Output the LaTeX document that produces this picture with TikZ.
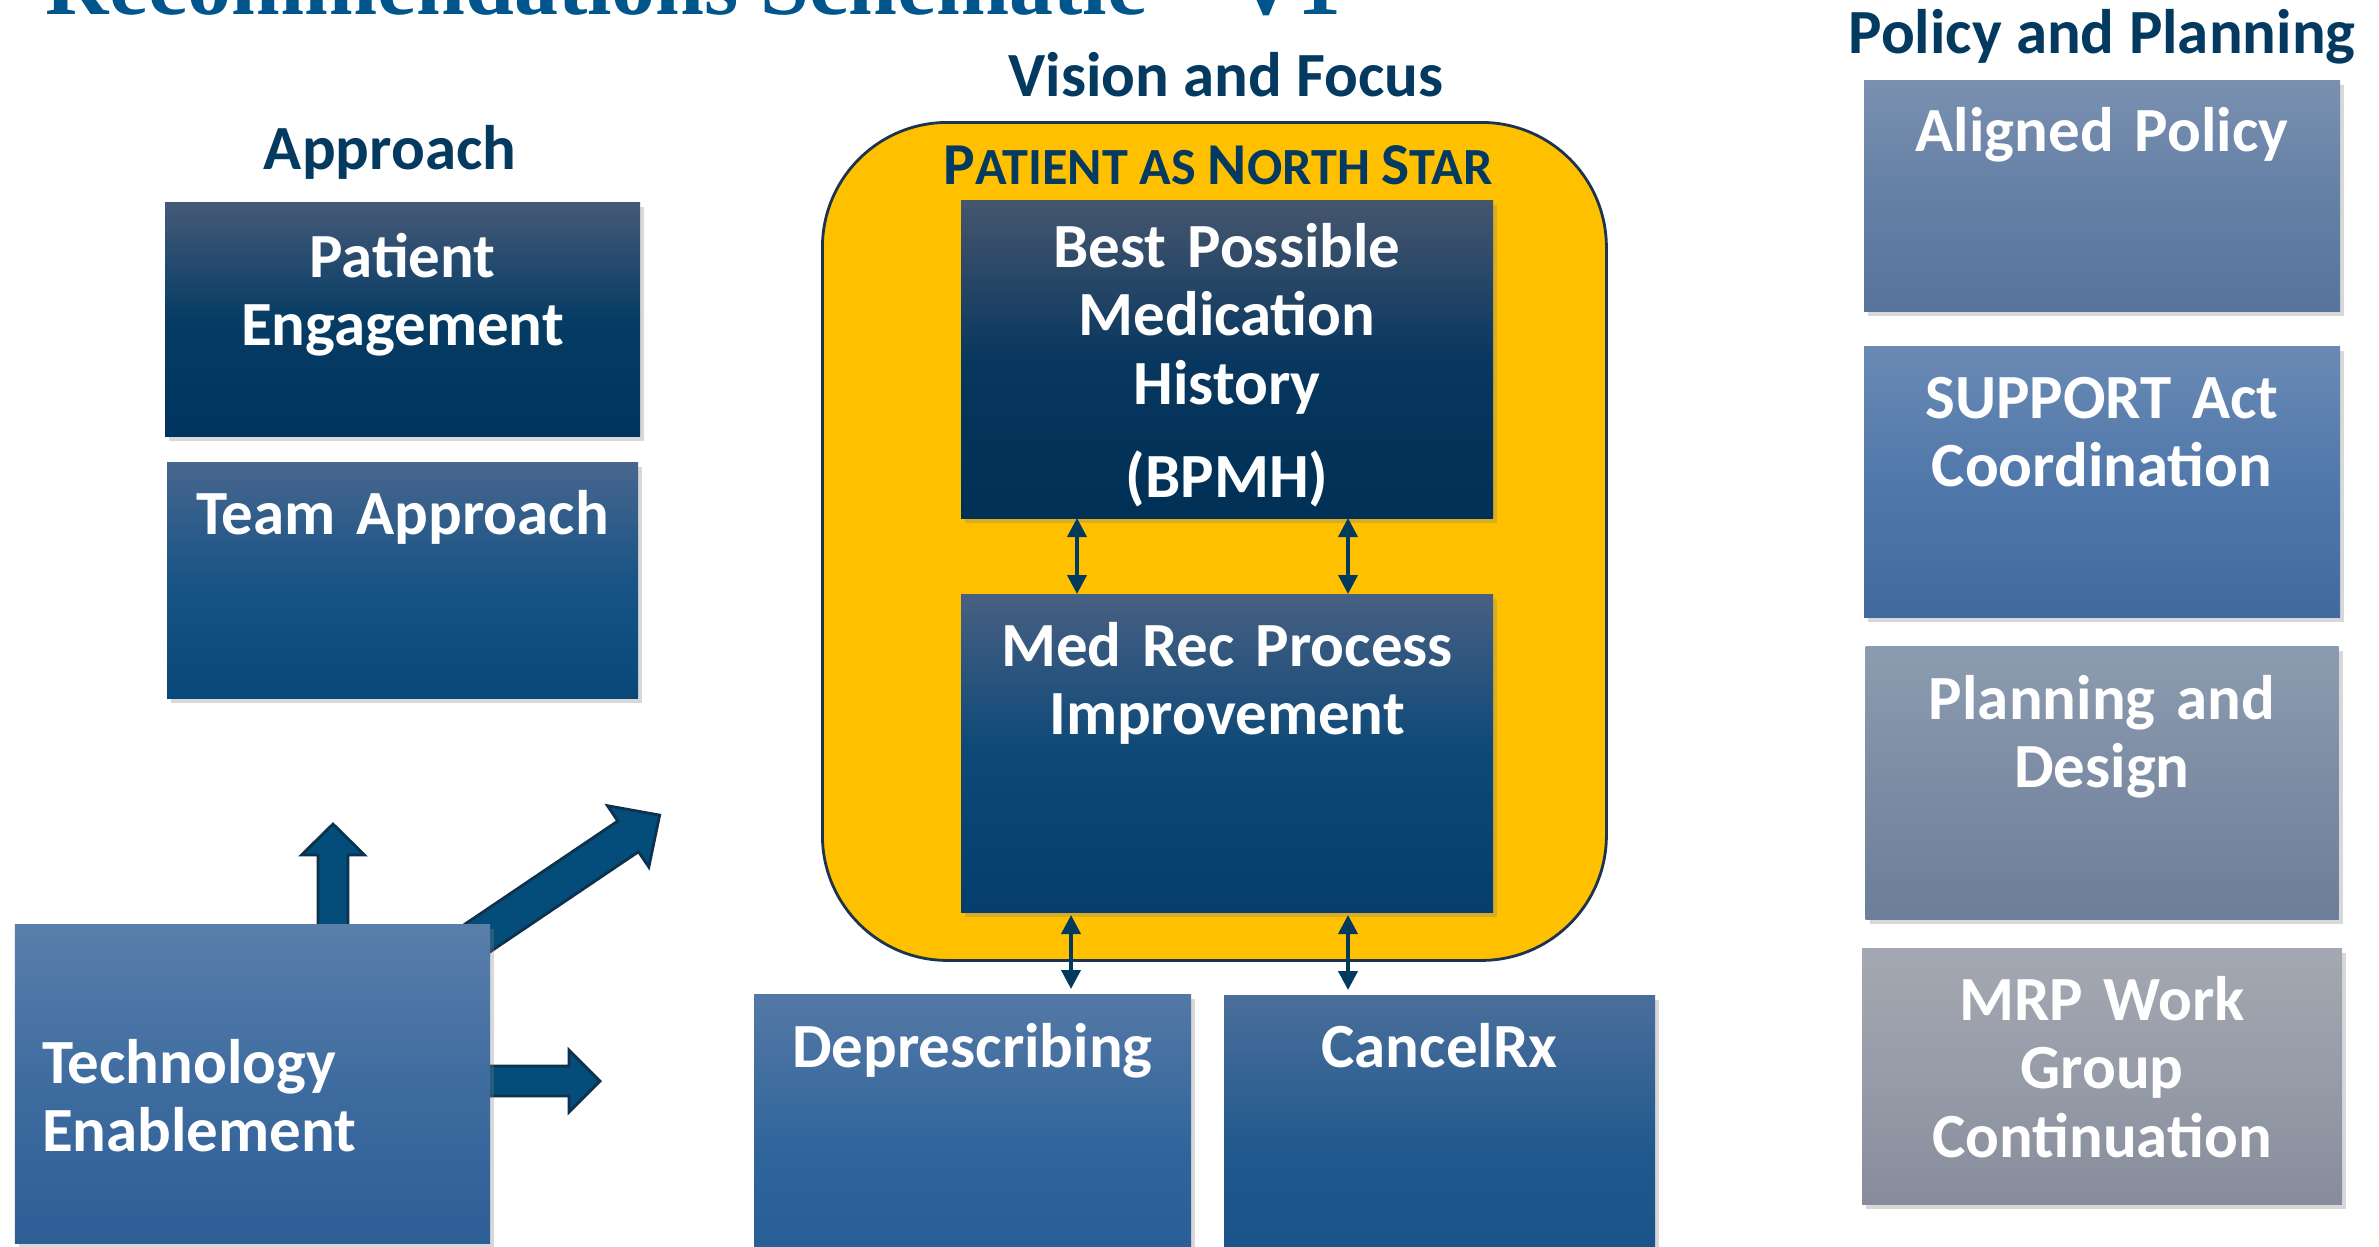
\documentclass[tikz,border=0pt]{standalone}
\usepackage{fontspec}
\setmainfont{Carlito}
\newfontfamily\titlefont{Liberation Serif}
\usetikzlibrary{arrows.meta, positioning, shadows}

\definecolor{headnavy}{RGB}{4,57,96}
\definecolor{titleblue}{RGB}{0,85,140}
\definecolor{gold}{RGB}{255,192,0}
\definecolor{goldline}{RGB}{28,52,80}
\definecolor{arrowfill}{RGB}{4,76,122}
\definecolor{arrowline}{RGB}{12,50,78}
\definecolor{linkblue}{RGB}{2,58,94}

% box gradients: top / middle / bottom
\definecolor{engageA}{RGB}{70,90,120}   \definecolor{engageB}{RGB}{6,60,100}   \definecolor{engageC}{RGB}{0,52,94}
\definecolor{teamA}{RGB}{72,102,142}    \definecolor{teamB}{RGB}{24,84,134}    \definecolor{teamC}{RGB}{10,72,122}
\definecolor{techA}{RGB}{90,126,170}    \definecolor{techB}{RGB}{62,108,160}   \definecolor{techC}{RGB}{46,94,150}
\definecolor{bpmhA}{RGB}{70,86,110}     \definecolor{bpmhB}{RGB}{8,55,95}      \definecolor{bpmhC}{RGB}{0,48,85}
\definecolor{medrecA}{RGB}{72,96,130}   \definecolor{medrecB}{RGB}{12,72,120}  \definecolor{medrecC}{RGB}{5,62,110}
\definecolor{depA}{RGB}{84,120,165}     \definecolor{depB}{RGB}{45,100,155}    \definecolor{depC}{RGB}{36,90,145}
\definecolor{cancelA}{RGB}{74,110,155}  \definecolor{cancelB}{RGB}{30,88,140}  \definecolor{cancelC}{RGB}{22,80,135}
\definecolor{alignA}{RGB}{122,144,176}  \definecolor{alignB}{RGB}{100,128,165} \definecolor{alignC}{RGB}{86,116,156}
\definecolor{supportA}{RGB}{106,138,180}\definecolor{supportB}{RGB}{80,120,170}\definecolor{supportC}{RGB}{64,106,158}
\definecolor{planA}{RGB}{140,156,176}   \definecolor{planB}{RGB}{124,140,164}  \definecolor{planC}{RGB}{108,126,152}
\definecolor{mrpA}{RGB}{164,168,178}    \definecolor{mrpB}{RGB}{150,156,168}   \definecolor{mrpC}{RGB}{134,140,154}

% small caps for the star label
\newcommand{\starbig}{\fontsize{16.9}{18}\selectfont}
\newcommand{\starsmall}{\fontsize{14.85}{16}\selectfont}

\tikzset{
    box/.style={
        rectangle,
        inner sep=0pt,
        outer sep=0pt,
        text=white,
        align=center,
        text height=0.72cm,
        drop shadow={opacity=0.3, shadow xshift=0.04cm, shadow yshift=-0.05cm}
    },
    vshade/.style={top color=#1A, bottom color=#1C, middle color=#1B},
    heading/.style={text=headnavy, anchor=base, inner sep=0pt},
    link/.style={
        {Triangle[length=0.19cm,width=0.19cm]}-{Triangle[length=0.19cm,width=0.19cm]},
        line width=1.1pt, draw=linkblue
    },
    bigarrow/.style={fill=arrowfill, draw=arrowline, line width=0.8pt}
}

\begin{document}
\begin{tikzpicture}[font=\bfseries\fontsize{17.9}{19.5}\selectfont]

\useasboundingbox (0,0) rectangle (23.79,-12.46);
\clip (0,0) rectangle (23.79,-12.46);
\fill[white] (0,0) rectangle (23.79,-12.46);

\node (title) [anchor=base west, inner sep=0pt, text=titleblue,
    font=\titlefont\bfseries\fontsize{25}{30}\selectfont] at (0.45,-0.14)
    {Recommendations Schematic – V1};

% headings
\node (approach) [heading] at (3.90,-1.69) {Approach};
\node (vision) [heading] at (12.26,-0.96) {Vision and Focus};
\node (policy) [heading] at (21.02,-0.53) {Policy and Planning};

% approach column
\node (engage) [box, vshade=engage, anchor=north west, text width=4.75cm,
    text height=0.75cm, text depth=1.59cm] at (1.65,-2.02) {Patient\\Engagement};
\node (team) [box, vshade=team, below=0.26cm of engage, text width=4.71cm,
    text depth=1.64cm] {Team Approach};

% block arrows out of technology
\draw[bigarrow, shift={(3.33,-9.60)}, rotate=90]
    (0,-0.15) -- (1.05,-0.15) -- (1.05,-0.315) -- (1.36,0) -- (1.05,0.315) -- (1.05,0.15) -- (0,0.15) -- cycle;
\draw[bigarrow, shift={(4.30,-9.70)}, rotate=34]
    (0,-0.185) -- (2.39,-0.185) -- (2.39,-0.37) -- (2.77,0) -- (2.39,0.37) -- (2.39,0.185) -- (0,0.185) -- cycle;
\draw[bigarrow, shift={(4.60,-10.81)}]
    (0,-0.15) -- (1.09,-0.15) -- (1.09,-0.31) -- (1.40,0) -- (1.09,0.31) -- (1.09,0.15) -- (0,0.15) -- cycle;

\node (tech) [box, vshade=tech, anchor=north west, align=left, inner xsep=0.27cm,
    text width=4.21cm, text height=1.59cm, text depth=1.60cm] at (0.15,-9.24) {Technology\\Enablement};

% vision and focus
\node (star) [draw=goldline, line width=0.8pt, fill=gold, rounded corners=1.25cm,
    minimum width=7.84cm, minimum height=8.38cm, anchor=north west] at (8.21,-1.21) {};
\node (northstar) [heading] at (12.18,-1.84)
    {{\starbig P}{\starsmall ATIENT AS }{\starbig N}{\starsmall ORTH }{\starbig S}{\starsmall TAR}};

\node (bpmh) [box, vshade=bpmh, anchor=north west, text width=5.32cm, text height=0.67cm,
    text depth=2.51cm] at (9.61,-2.00) {Best Possible\\Medication\\History\\[0.25cm](BPMH)};
\node (medrec) [box, vshade=medrec, below=0.76cm of bpmh, text width=5.32cm,
    text depth=2.46cm] {Med Rec Process\\Improvement};

\node (depresc) [box, vshade=dep, anchor=north west, text width=4.37cm, text height=0.73cm,
    text depth=2.6cm] at (7.54,-9.94) {Deprescribing};
\node (cancelrx) [box, vshade=cancel, anchor=north west, text width=4.31cm,
    text depth=2.6cm] at (12.24,-9.95) {CancelRx};

\draw [link] ([xshift=-1.50cm]bpmh.south) -- ([xshift=-1.50cm]medrec.north);
\draw [link] ([xshift=1.21cm]bpmh.south) -- ([xshift=1.21cm]medrec.north);
\draw [link, shorten <=0.03cm, shorten >=0.05cm] ([xshift=-1.56cm]medrec.south) -- ([xshift=-1.56cm]medrec.south |- depresc.north);
\draw [link, shorten <=0.03cm, shorten >=0.05cm] ([xshift=1.21cm]medrec.south) -- ([xshift=1.21cm]medrec.south |- cancelrx.north);

% policy and planning column
\node (aligned) [box, vshade=align, anchor=north west, text width=4.76cm, text height=0.71cm,
    text depth=1.60cm] at (18.64,-0.80) {Aligned Policy};
\node (support) [box, vshade=support, below=0.35cm of aligned, text width=4.76cm,
    text depth=1.99cm] {SUPPORT Act\\Coordination};
\node (planning) [box, vshade=plan, below=0.29cm of support, text width=4.73cm,
    text height=0.73cm, text depth=2.00cm] {Planning and\\Design};
\node (mrp) [box, vshade=mrp, below=0.29cm of planning, text width=4.80cm,
    text depth=1.84cm] {MRP Work\\Group\\Continuation};

\end{tikzpicture}
\end{document}
